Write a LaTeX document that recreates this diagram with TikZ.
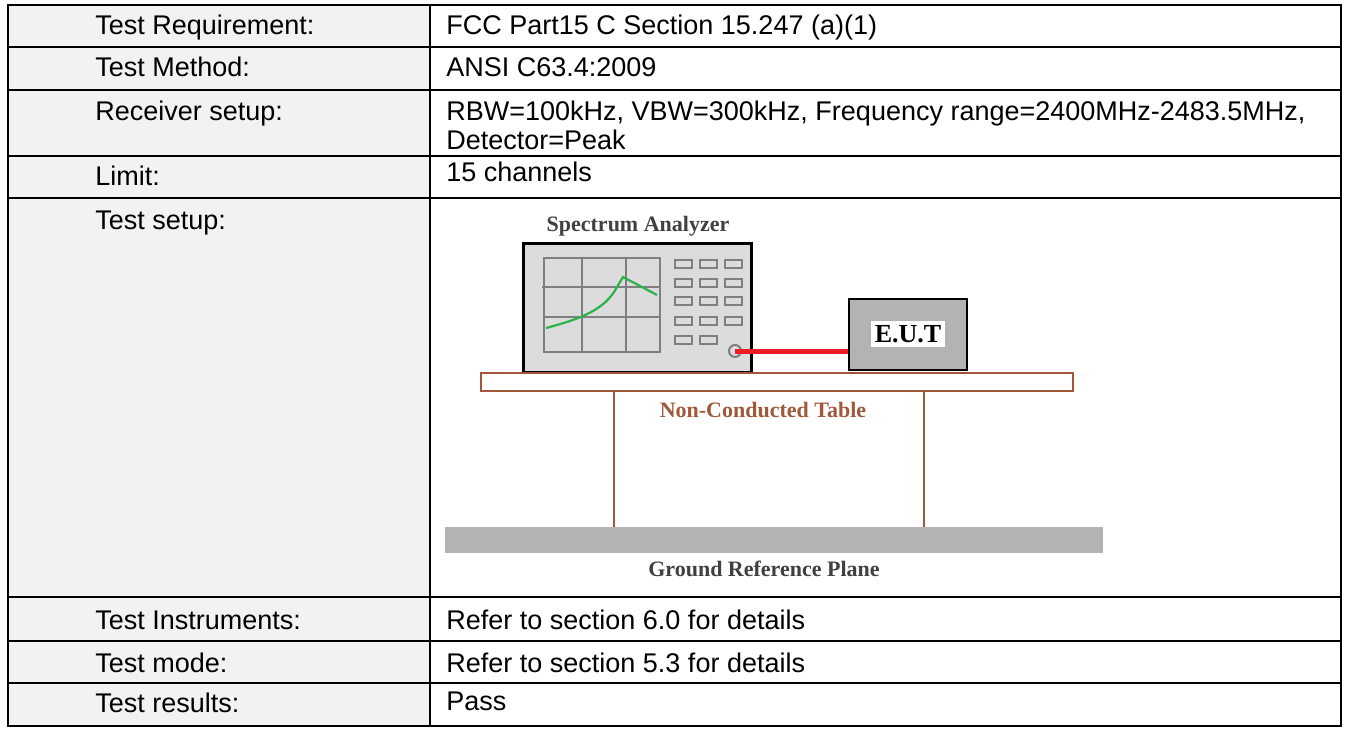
\documentclass[tikz,border=0pt]{standalone}
\usepackage{fontspec}
\setmainfont{Liberation Sans}
\newfontfamily\serifb{Liberation Serif}
\definecolor{labgray}{HTML}{F2F2F2}
\definecolor{gridgray}{HTML}{7F7F7F}
\definecolor{anafill}{HTML}{DCDCDC}
\definecolor{eutfill}{HTML}{B3B3B3}
\definecolor{tbrown}{HTML}{A0583A}
\definecolor{cablered}{HTML}{ED1C24}
\definecolor{curvegreen}{HTML}{2DB24A}
\definecolor{darktext}{HTML}{404040}
\begin{document}
\begin{tikzpicture}[x=0.5pt,y=-0.5pt,
  cell/.style={anchor=base west,inner sep=0pt,font=\fontsize{13.5}{16}\selectfont},
  rule/.style={line width=1pt,black},
  btn/.style={draw=gridgray,line width=0.9pt,fill=anafill},
  grid/.style={draw=gridgray,line width=1.1pt},
  diaglabel/.style={font=\serifb\bfseries\fontsize{11}{13}\selectfont,inner sep=0pt},
  brown/.style={draw=tbrown,line width=1.3pt}]
\useasboundingbox (0,0) rectangle (1346,729);
% left column fill
\fill[labgray] (8,5) rectangle (430,726);
% table lines
\draw[line width=1.3pt] (8,5) rectangle (1341,726);
\foreach \y in {47,90,156,198,597,641,683} \draw[rule] (8,\y) -- (1341,\y);
\draw[rule] (430,5) -- (430,726);
% labels
\node[cell] (l1) at (95,34) {Test Requirement:};
\node[cell] (l2) at (95,76) {Test Method:};
\node[cell] (l3) at (95,120) {Receiver setup:};
\node[cell] (l4) at (95,185) {Limit:};
\node[cell] (l5) at (95,229) {Test setup:};
\node[cell] (l6) at (95,629) {Test Instruments:};
\node[cell] (l7) at (95,672) {Test mode:};
\node[cell] (l8) at (95,712) {Test results:};
\node[cell] (r1) at (446,34) {FCC Part15 C Section 15.247 (a)(1)};
\node[cell] (r2) at (446,76) {ANSI C63.4:2009};
\node[cell] (r3) at (446,120) {RBW=100kHz, VBW=300kHz, Frequency range=2400MHz-2483.5MHz,};
\node[cell] (r3b) at (446,149) {Detector=Peak};
\node[cell] (r4) at (446,181) {15 channels};
\node[cell] (r6) at (446,629) {Refer to section 6.0 for details};
\node[cell] (r7) at (446,672) {Refer to section 5.3 for details};
\node[cell] (r8) at (446,710) {Pass};
% ---- diagram ----
\node[diaglabel,text=darktext] (satitle) at (638,226) {Spectrum Analyzer};
\draw[line width=1.5pt,fill=anafill] (523,243) rectangle (751,372);
% grid
\draw[grid] (544,258) rectangle (660,352);
\draw[grid] (582,258) -- (582,352) (626,258) -- (626,352);
\draw[grid] (542,287) -- (660,287) (544,317) -- (660,317);
% curve
\draw[curvegreen,line width=1.1pt] (546,328) .. controls (580,319) and (605,310) .. (617,287) .. controls (620,281) .. (623,277) -- (657,295);
% buttons
\foreach \yy in {260,279,297,317} {
  \foreach \xx in {675,700,725} \draw[btn] (\xx,\yy) rectangle ++(17,8);
}
\foreach \xx in {675,700} \draw[btn] (\xx,336) rectangle ++(17,8);
% port
\node[circle,draw=gridgray,line width=1pt,minimum size=6pt,inner sep=0pt] (port) at (735,351) {};
% EUT
\node[draw=black,line width=1.2pt,fill=eutfill,minimum width=59pt,minimum height=35.5pt,inner sep=0pt] (eut) at (908,334.5) {};
\node[fill=white,inner sep=2pt,font=\serifb\bfseries\fontsize{13}{15}\selectfont] (eutlabel) at (908,334) {E.U.T};
\draw[cablered,line width=2.5pt] (port.center) -- (eut.west |- port.center);
% table
\draw[brown,fill=white] (481,373) rectangle (1073,391);
\coordinate (legA) at (614,391);
\coordinate (legB) at (924,391);
\coordinate (legAb) at (614,527);
\coordinate (legBb) at (924,527);
\draw[brown] (legA) -- (legAb);
\draw[brown] (legB) -- (legBb);
\node[diaglabel,text=tbrown] (tablelabel) at (763,410) {Non-Conducted Table};
% ground plane
\fill[eutfill] (445,527) rectangle (1103,553);
\node[diaglabel,text=darktext] (gndlabel) at (764,569) {Ground Reference Plane};
\end{tikzpicture}
\end{document}
